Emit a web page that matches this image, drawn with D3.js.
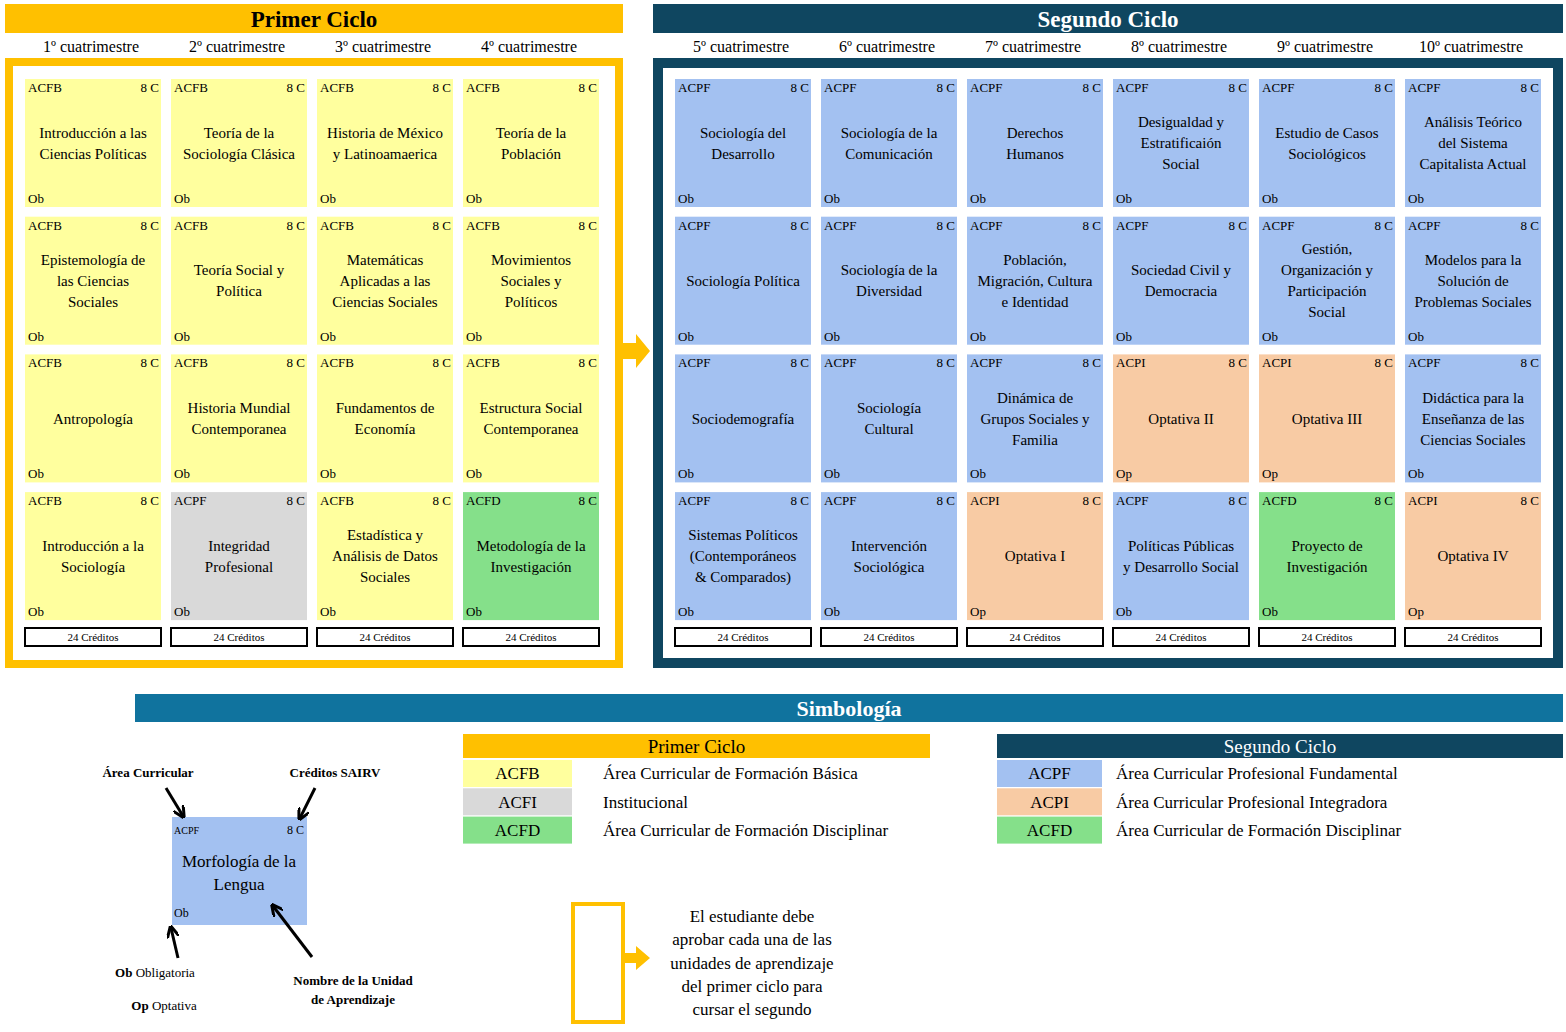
<!DOCTYPE html>
<html><head><meta charset="utf-8">
<script src="https://cdn.jsdelivr.net/npm/d3@7"></script>
<style>body{margin:0;background:#fff}text{font-family:"Liberation Serif","Times New Roman",serif}</style>
</head><body><svg id="c" width="1566" height="1032"></svg>
<script>
const semesters=["1º cuatrimestre","2º cuatrimestre","3º cuatrimestre","4º cuatrimestre","5º cuatrimestre","6º cuatrimestre","7º cuatrimestre","8º cuatrimestre","9º cuatrimestre","10º cuatrimestre"];
const codes=[
["ACFB","ACFB","ACFB","ACFB"],["ACFB","ACFB","ACFB","ACPF"],["ACFB","ACFB","ACFB","ACFB"],["ACFB","ACFB","ACFB","ACFD"],
["ACPF","ACPF","ACPF","ACPF"],["ACPF","ACPF","ACPF","ACPF"],["ACPF","ACPF","ACPF","ACPI"],["ACPF","ACPF","ACPI","ACPF"],["ACPF","ACPF","ACPI","ACFD"],["ACPF","ACPF","ACPF","ACPI"]];
const kinds=[
["b","b","b","b"],["b","b","b","i"],["b","b","b","b"],["b","b","b","g"],
["f","f","f","f"],["f","f","f","f"],["f","f","f","o"],["f","f","o","f"],["f","f","o","g"],["f","f","f","o"]];
const names=[
["Introducción a las\nCiencias Políticas","Epistemología de\nlas Ciencias\nSociales","Antropología","Introducción a la\nSociología"],
["Teoría de la\nSociología Clásica","Teoría Social y\nPolítica","Historia Mundial\nContemporanea","Integridad\nProfesional"],
["Historia de México\ny Latinoamaerica","Matemáticas\nAplicadas a las\nCiencias Sociales","Fundamentos de\nEconomía","Estadística y\nAnálisis de Datos\nSociales"],
["Teoría de la\nPoblación","Movimientos\nSociales y\nPolíticos","Estructura Social\nContemporanea","Metodología de la\nInvestigación"],
["Sociología del\nDesarrollo","Sociología Política","Sociodemografía","Sistemas Políticos\n(Contemporáneos\n& Comparados)"],
["Sociología de la\nComunicación","Sociología de la\nDiversidad","Sociología\nCultural","Intervención\nSociológica"],
["Derechos\nHumanos","Población,\nMigración, Cultura\ne Identidad","Dinámica de\nGrupos Sociales y\nFamilia","Optativa I"],
["Desigualdad y\nEstratificaión\nSocial","Sociedad Civil y\nDemocracia","Optativa II","Políticas Públicas\ny Desarrollo Social"],
["Estudio de Casos\nSociológicos","Gestión,\nOrganización y\nParticipación\nSocial","Optativa III","Proyecto de\nInvestigación"],
["Análisis Teórico\ndel Sistema\nCapitalista Actual","Modelos para la\nSolución de\nProblemas Sociales","Didáctica para la\nEnseñanza de las\nCiencias Sociales","Optativa IV"]];
const types=[
["Ob","Ob","Ob","Ob"],["Ob","Ob","Ob","Ob"],["Ob","Ob","Ob","Ob"],["Ob","Ob","Ob","Ob"],
["Ob","Ob","Ob","Ob"],["Ob","Ob","Ob","Ob"],["Ob","Ob","Ob","Op"],["Ob","Ob","Op","Ob"],["Ob","Ob","Op","Ob"],["Ob","Ob","Ob","Op"]];
const credits="8 C", semCredits="24 Créditos";
const legend1=[["ACFB","Área Curricular de Formación Básica","b"],["ACFI","Institucional","i"],["ACFD","Área Curricular de Formación Disciplinar","g"]];
const legend2=[["ACPF","Área Curricular Profesional Fundamental","f"],["ACPI","Área Curricular Profesional Integradora","o"],["ACFD","Área Curricular de Formación Disciplinar","g"]];

const col={b:"#FFFF9E",i:"#D9D9D9",g:"#85E08A",f:"#A3C1F1",o:"#F8CBA4"};
const YEL="#FFC000",DARK="#0F4660",MID="#10739E";
const svg=d3.select("#c");

const colX=i=>i<4?25+146*i:675+146*(i-4);
const rowY=d3.scaleLinear().domain([0,1]).range([79,216.7]);
const CW=136,CH=128;

// Headers
function bar(x,y,w,h,fill,txt,size,bold,color){
  svg.append("rect").attr("x",x).attr("y",y).attr("width",w).attr("height",h).attr("fill",fill);
  svg.append("text").attr("x",x+w/2).attr("y",y+h/2).attr("dy","0.35em").attr("text-anchor","middle")
   .attr("font-size",size).attr("font-weight",bold?"bold":"normal").attr("fill",color).text(txt);
}
bar(5,4,618,29,YEL,"Primer Ciclo",23,true,"#000");
bar(653,4,910,29,DARK,"Segundo Ciclo",23,true,"#fff");
svg.append("rect").attr("x",9).attr("y",62).attr("width",610).attr("height",602).attr("fill","none").attr("stroke",YEL).attr("stroke-width",8);
svg.append("rect").attr("x",658).attr("y",63).attr("width",900).attr("height",600).attr("fill","none").attr("stroke",DARK).attr("stroke-width",10);
// arrow
svg.append("path").attr("d","M623,343 L636,343 L636,334 L650,351 L636,368 L636,359 L623,359Z").attr("fill",YEL);

semesters.forEach((s,i)=>{
  const x=colX(i);
  svg.append("text").attr("x",x+CW/2-2).attr("y",52).attr("text-anchor","middle").attr("font-size",16).text(s);
  for(let r=0;r<4;r++){
    const y=rowY(r);
    const g=svg.append("g");
    g.append("rect").attr("x",x).attr("y",y).attr("width",CW).attr("height",CH).attr("fill",col[kinds[i][r]]);
    g.append("text").attr("x",x+3).attr("y",y+13).attr("font-size",13).text(codes[i][r]);
    g.append("text").attr("x",x+CW-2).attr("y",y+13).attr("text-anchor","end").attr("font-size",13).text(credits);
    g.append("text").attr("x",x+3).attr("y",y+124).attr("font-size",13).text(types[i][r]);
    const lines=names[i][r].split("\n");
    const t=g.append("text").attr("text-anchor","middle").attr("font-size",15);
    lines.forEach((l,k)=>t.append("tspan").attr("x",x+CW/2).attr("y",y+64+(k-(lines.length-1)/2)*21).attr("dy","0.35em").text(l));
  }
  svg.append("rect").attr("x",x).attr("y",628).attr("width",CW).attr("height",18).attr("fill","#fff").attr("stroke","#000").attr("stroke-width",2);
  svg.append("text").attr("x",x+CW/2).attr("y",641).attr("text-anchor","middle").attr("font-size",11).text(semCredits);
});

// Simbología
bar(135,694,1428,28,MID,"Simbología",22,true,"#fff");
function legend(x,w,cw,tx,fill,title,tcol,items){
  bar(x,734,w,24,fill,title,19,false,tcol);
  items.forEach((it,k)=>{
    const y=760+k*28.3;
    svg.append("rect").attr("x",x).attr("y",y).attr("width",cw).attr("height",27).attr("fill",col[it[2]]);
    svg.append("text").attr("x",x+cw/2).attr("y",y+13.5).attr("dy","0.35em").attr("text-anchor","middle").attr("font-size",17).text(it[0]);
    svg.append("text").attr("x",tx).attr("y",y+13.5).attr("dy","0.35em").attr("font-size",17).text(it[1]);
  });
}
legend(463,467,109,603,YEL,"Primer Ciclo","#000",legend1);
legend(997,566,105,1116,DARK,"Segundo Ciclo","#fff",legend2);

// example cell
svg.append("rect").attr("x",172).attr("y",817).attr("width",135).attr("height",108).attr("fill",col.f);
svg.append("text").attr("x",174).attr("y",834).attr("font-size",10).text("ACPF");
svg.append("text").attr("x",304).attr("y",834).attr("text-anchor","end").attr("font-size",12).text("8 C");
svg.append("text").attr("x",174).attr("y",917).attr("font-size",12).text("Ob");
svg.append("text").attr("x",239).attr("y",867).attr("text-anchor","middle").attr("font-size",17).text("Morfología de la");
svg.append("text").attr("x",239).attr("y",890).attr("text-anchor","middle").attr("font-size",17).text("Lengua");
const bt=(x,y,t,a)=>svg.append("text").attr("x",x).attr("y",y).attr("text-anchor",a||"middle").attr("font-size",13).attr("font-weight","bold").text(t);
bt(148,777,"Área Curricular");bt(335,777,"Créditos SAIRV");
bt(353,985,"Nombre de la Unidad");bt(353,1004,"de Aprendizaje");
const t1=svg.append("text").attr("x",155).attr("y",977).attr("text-anchor","middle").attr("font-size",13);
t1.append("tspan").attr("font-weight","bold").text("Ob");t1.append("tspan").text(" Obligatoria");
const t2=svg.append("text").attr("x",164).attr("y",1010).attr("text-anchor","middle").attr("font-size",13);
t2.append("tspan").attr("font-weight","bold").text("Op");t2.append("tspan").text(" Optativa");
svg.append("defs").append("marker").attr("id","ah").attr("viewBox","0 0 10 10").attr("refX",8).attr("refY",5)
 .attr("markerWidth",4).attr("markerHeight",4).attr("orient","auto").append("path").attr("d","M0,0 L10,5 L0,10").attr("fill","none").attr("stroke","#000").attr("stroke-width",2.5);
const arr=(x1,y1,x2,y2)=>svg.append("line").attr("x1",x1).attr("y1",y1).attr("x2",x2).attr("y2",y2).attr("stroke","#000").attr("stroke-width",3).attr("marker-end","url(#ah)");
arr(166,788,183,816);arr(315,788,300,818);arr(178,958,171,928);arr(312,957,273,906);

// note
svg.append("rect").attr("x",573).attr("y",904).attr("width",50).attr("height",118).attr("fill","none").attr("stroke",YEL).attr("stroke-width",4);
svg.append("path").attr("d","M625,953 L636,953 L636,946 L650,958 L636,970 L636,963 L625,963Z").attr("fill",YEL);
["El estudiante debe","aprobar cada una de las","unidades de aprendizaje","del primer ciclo para","cursar el segundo"].forEach((l,k)=>
  svg.append("text").attr("x",752).attr("y",922+k*23.3).attr("text-anchor","middle").attr("font-size",17).text(l));
</script></body></html>
